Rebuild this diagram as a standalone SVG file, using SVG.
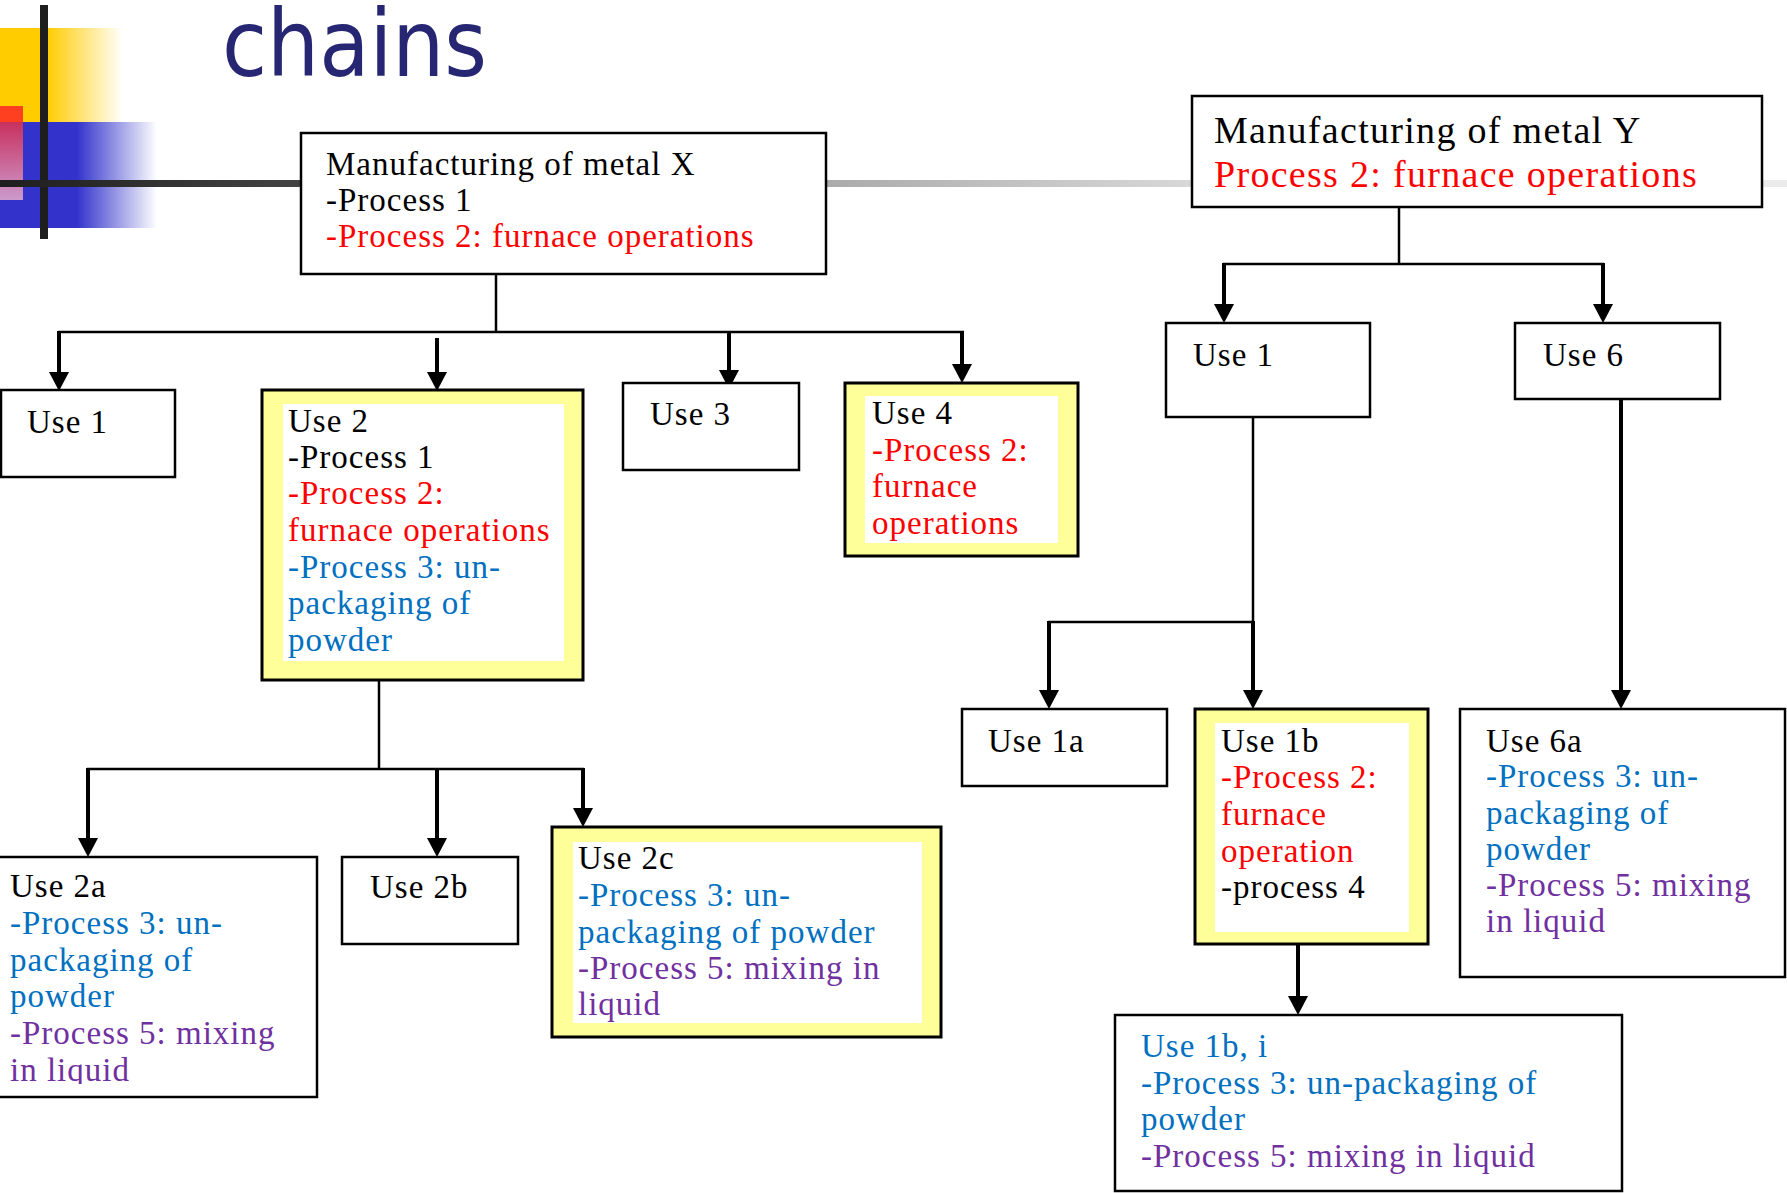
<svg xmlns="http://www.w3.org/2000/svg" width="1787" height="1193" viewBox="0 0 1787 1193">
<defs>
<style>
.box{fill:#fff;stroke:#000;stroke-width:2.5}
.hl{fill:#ffff99;stroke:#000;stroke-width:3}
.inner{fill:#fff}
.t{font-family:"Liberation Serif","Times New Roman",serif;font-size:33px;letter-spacing:1px;fill:#000}
.big{font-size:38px;letter-spacing:1.3px}
.r{fill:#ff0000}
.b{fill:#0070c0}
.p{fill:#7030a0}
.thin{stroke:#000;stroke-width:2.5;fill:none}
.arr{stroke:#000;stroke-width:4;fill:none;marker-end:url(#ah)}
</style>
<marker id="ah" markerUnits="userSpaceOnUse" markerWidth="19" markerHeight="20" viewBox="0 0 19 20" refX="9" refY="10" orient="auto">
<path d="M0,0 L19,10 L0,20 z" fill="#000"/>
</marker>
<linearGradient id="gy" gradientUnits="userSpaceOnUse" x1="0" y1="0" x2="123" y2="0">
<stop offset="0" stop-color="#ffcc00"/>
<stop offset="0.38" stop-color="#ffcc00"/>
<stop offset="1" stop-color="#ffcc00" stop-opacity="0"/>
</linearGradient>
<linearGradient id="gb" gradientUnits="userSpaceOnUse" x1="0" y1="0" x2="157" y2="0">
<stop offset="0" stop-color="#3333cc"/>
<stop offset="0.49" stop-color="#3333cc"/>
<stop offset="1" stop-color="#3333cc" stop-opacity="0"/>
</linearGradient>
<linearGradient id="gr" x1="0" y1="0" x2="0" y2="1">
<stop offset="0" stop-color="#c8305e"/>
<stop offset="1" stop-color="#cc9acc"/>
</linearGradient>
<linearGradient id="gl" gradientUnits="userSpaceOnUse" x1="0" y1="0" x2="1787" y2="0">
<stop offset="0" stop-color="#1e1e1e"/>
<stop offset="0.17" stop-color="#444"/>
<stop offset="0.46" stop-color="#aaa"/>
<stop offset="0.67" stop-color="#d9d9d9"/>
<stop offset="1" stop-color="#ebebeb"/>
</linearGradient>
<clipPath id="clip2a"><rect x="0" y="857" width="317" height="227"/></clipPath>
</defs>

<g id="logo">
<rect x="0" y="28" width="123" height="94" fill="url(#gy)"/>
<rect x="0" y="122" width="157" height="106" fill="url(#gb)"/>
<rect x="0" y="106" width="23" height="16" fill="#ff4020"/>
<rect x="0" y="122" width="23" height="78" fill="url(#gr)"/>
<rect x="40" y="5" width="8" height="234" fill="#1e1e1e"/>
<rect x="0" y="180" width="1787" height="7" fill="url(#gl)"/>
</g>

<g id="title">
<text x="222" y="76" font-family="'DejaVu Sans Condensed','DejaVu Sans',sans-serif" font-size="92" fill="#262673" textLength="265" lengthAdjust="spacingAndGlyphs">chains</text>
</g>

<g id="connectors">
<line class="thin" x1="496" y1="274" x2="496" y2="332"/>
<line class="thin" x1="58" y1="332" x2="964" y2="332"/>
<line class="thin" x1="1399" y1="207" x2="1399" y2="264"/>
<line class="thin" x1="1223" y1="264" x2="1604" y2="264"/>
<line class="thin" x1="1253" y1="417" x2="1253" y2="622"/>
<line class="thin" x1="1048" y1="622" x2="1254" y2="622"/>
<line class="thin" x1="379" y1="680" x2="379" y2="769"/>
<line class="thin" x1="87" y1="769" x2="584" y2="769"/>
<line class="arr" x1="59" y1="331" x2="59" y2="381"/>
<line class="arr" x1="437" y1="338" x2="437" y2="381"/>
<line class="arr" x1="729" y1="331" x2="729" y2="379"/>
<line class="arr" x1="962" y1="331" x2="962" y2="373"/>
<line class="arr" x1="1224" y1="263" x2="1224" y2="313"/>
<line class="arr" x1="1603" y1="263" x2="1603" y2="313"/>
<line class="arr" x1="1049" y1="621" x2="1049" y2="699"/>
<line class="arr" x1="1253" y1="621" x2="1253" y2="699"/>
<line class="arr" x1="1621" y1="399" x2="1621" y2="699"/>
<line class="arr" x1="88" y1="768" x2="88" y2="847"/>
<line class="arr" x1="437" y1="768" x2="437" y2="847"/>
<line class="arr" x1="583" y1="768" x2="583" y2="817"/>
<line class="arr" x1="1298" y1="944" x2="1298" y2="1005"/>
</g>

<g id="metalX">
<rect class="box" x="301" y="133" width="525" height="141"/>
<text class="t"><tspan x="326" y="175">Manufacturing of metal X</tspan><tspan x="326" y="211">-Process 1</tspan><tspan class="r" x="326" y="247">-Process 2: furnace operations</tspan></text>
</g>

<g id="metalY">
<rect class="box" x="1192" y="96" width="570" height="111"/>
<text class="t big"><tspan x="1214" y="143">Manufacturing of metal Y</tspan><tspan class="r" x="1214" y="187">Process 2: furnace operations</tspan></text>
</g>

<g id="use1x">
<rect class="box" x="1" y="390" width="174" height="87"/>
<text class="t" x="27" y="433">Use 1</text>
</g>

<g id="use2">
<rect class="hl" x="262" y="390" width="321" height="290"/>
<rect class="inner" x="283" y="404" width="281" height="257"/>
<text class="t"><tspan x="288" y="432">Use 2</tspan><tspan x="288" y="468">-Process 1</tspan><tspan class="r" x="288" y="504">-Process 2:</tspan><tspan class="r" x="288" y="541">furnace operations</tspan><tspan class="b" x="288" y="578">-Process 3: un-</tspan><tspan class="b" x="288" y="614">packaging of</tspan><tspan class="b" x="288" y="651">powder</tspan></text>
</g>

<g id="use3">
<rect class="box" x="623" y="383" width="176" height="87"/>
<text class="t" x="650" y="425">Use 3</text>
</g>

<g id="use4">
<rect class="hl" x="845" y="383" width="233" height="173"/>
<rect class="inner" x="865" y="396" width="193" height="147"/>
<text class="t"><tspan x="872" y="424">Use 4</tspan><tspan class="r" x="872" y="461">-Process 2:</tspan><tspan class="r" x="872" y="497">furnace</tspan><tspan class="r" x="872" y="534">operations</tspan></text>
</g>

<g id="use2a">
<rect class="box" x="-2" y="857" width="319" height="240"/>
<text class="t" clip-path="url(#clip2a)"><tspan x="10" y="897">Use 2a</tspan><tspan class="b" x="10" y="934">-Process 3: un-</tspan><tspan class="b" x="10" y="971">packaging of</tspan><tspan class="b" x="10" y="1007">powder</tspan><tspan class="p" x="10" y="1044">-Process 5: mixing</tspan><tspan class="p" x="10" y="1081">in liquid</tspan></text>
</g>

<g id="use2b">
<rect class="box" x="342" y="857" width="176" height="87"/>
<text class="t" x="370" y="898">Use 2b</text>
</g>

<g id="use2c">
<rect class="hl" x="552" y="827" width="389" height="210"/>
<rect class="inner" x="573" y="842" width="349" height="181"/>
<text class="t"><tspan x="578" y="869">Use 2c</tspan><tspan class="b" x="578" y="906">-Process 3: un-</tspan><tspan class="b" x="578" y="943">packaging of powder</tspan><tspan class="p" x="578" y="979">-Process 5: mixing in</tspan><tspan class="p" x="578" y="1015">liquid</tspan></text>
</g>

<g id="use1y">
<rect class="box" x="1166" y="323" width="204" height="94"/>
<text class="t" x="1193" y="366">Use 1</text>
</g>

<g id="use6">
<rect class="box" x="1515" y="323" width="205" height="76"/>
<text class="t" x="1543" y="366">Use 6</text>
</g>

<g id="use1a">
<rect class="box" x="962" y="709" width="205" height="77"/>
<text class="t" x="988" y="752">Use 1a</text>
</g>

<g id="use1b">
<rect class="hl" x="1195" y="709" width="233" height="235"/>
<rect class="inner" x="1215" y="723" width="194" height="209"/>
<text class="t"><tspan x="1221" y="752">Use 1b</tspan><tspan class="r" x="1221" y="788">-Process 2:</tspan><tspan class="r" x="1221" y="825">furnace</tspan><tspan class="r" x="1221" y="862">operation</tspan><tspan x="1221" y="898">-process 4</tspan></text>
</g>

<g id="use1bi">
<rect class="box" x="1115" y="1015" width="507" height="176"/>
<text class="t"><tspan class="b" x="1141" y="1057">Use 1b, i</tspan><tspan class="b" x="1141" y="1094">-Process 3: un-packaging of</tspan><tspan class="b" x="1141" y="1130">powder</tspan><tspan class="p" x="1141" y="1167">-Process 5: mixing in liquid</tspan></text>
</g>

<g id="use6a">
<rect class="box" x="1460" y="709" width="325" height="268"/>
<text class="t"><tspan x="1486" y="752">Use 6a</tspan><tspan class="b" x="1486" y="787">-Process 3: un-</tspan><tspan class="b" x="1486" y="824">packaging of</tspan><tspan class="b" x="1486" y="860">powder</tspan><tspan class="p" x="1486" y="896">-Process 5: mixing</tspan><tspan class="p" x="1486" y="932">in liquid</tspan></text>
</g>
</svg>
